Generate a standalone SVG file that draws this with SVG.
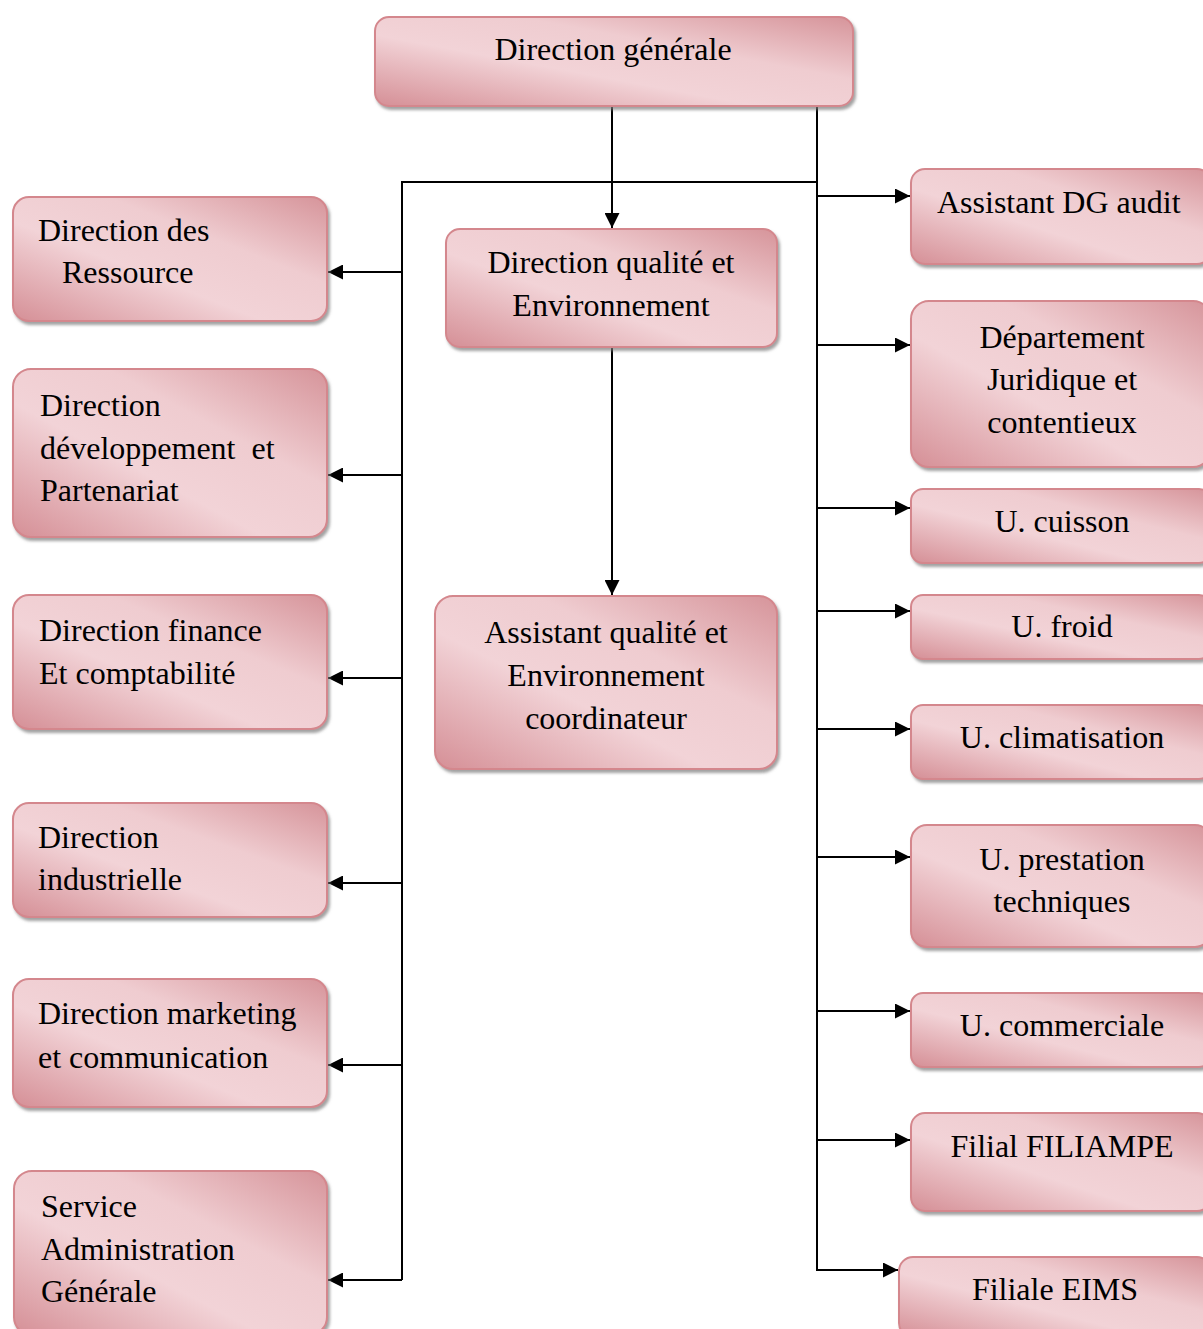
<svg xmlns="http://www.w3.org/2000/svg" width="1203" height="1329" viewBox="0 0 1203 1329">
<style>
.box{fill:url(#g);stroke:#d4878d;stroke-width:2;filter:url(#sh)}
.t{font-family:"Liberation Serif","Times New Roman",serif;font-size:32px;fill:#000}
.c{text-anchor:middle}
.ln{fill:none;stroke:#000;stroke-width:2}
</style>
<defs>
<linearGradient id="g" x1="0" y1="1" x2="1" y2="0">
<stop offset="0" stop-color="#d58f96"/>
<stop offset="0.4" stop-color="#f2d3d7"/>
<stop offset="0.65" stop-color="#efccd0"/>
<stop offset="1" stop-color="#d6949a"/>
</linearGradient>
<filter id="sh" x="-5%" y="-5%" width="115%" height="120%">
<feDropShadow dx="2" dy="3" stdDeviation="1.5" flood-color="#7a7a7a" flood-opacity="0.7"/>
</filter>
<marker id="ar" markerWidth="15" markerHeight="15" viewBox="0 0 15 15" refX="15" refY="7.5" orient="auto" markerUnits="userSpaceOnUse">
<path d="M0,0 L15,7.5 L0,15 Z" fill="#000"/>
</marker>
</defs>

<g id="connectors">
<line class="ln" x1="612" y1="106" x2="612" y2="228" marker-end="url(#ar)"/>
<polyline class="ln" points="817,106 817,182 402,182 402,1280"/>
<line class="ln" x1="817" y1="182" x2="817" y2="1271"/>
<line class="ln" x1="612" y1="346" x2="612" y2="595" marker-end="url(#ar)"/>
<line class="ln" x1="402" y1="272" x2="328" y2="272" marker-end="url(#ar)"/>
<line class="ln" x1="402" y1="475" x2="328" y2="475" marker-end="url(#ar)"/>
<line class="ln" x1="402" y1="678" x2="328" y2="678" marker-end="url(#ar)"/>
<line class="ln" x1="402" y1="883" x2="328" y2="883" marker-end="url(#ar)"/>
<line class="ln" x1="402" y1="1065" x2="328" y2="1065" marker-end="url(#ar)"/>
<polyline class="ln" points="402,1280 328,1280" marker-end="url(#ar)"/>
<line class="ln" x1="817" y1="196" x2="910" y2="196" marker-end="url(#ar)"/>
<line class="ln" x1="817" y1="345" x2="910" y2="345" marker-end="url(#ar)"/>
<line class="ln" x1="817" y1="508" x2="910" y2="508" marker-end="url(#ar)"/>
<line class="ln" x1="817" y1="611" x2="910" y2="611" marker-end="url(#ar)"/>
<line class="ln" x1="817" y1="729" x2="910" y2="729" marker-end="url(#ar)"/>
<line class="ln" x1="817" y1="857" x2="910" y2="857" marker-end="url(#ar)"/>
<line class="ln" x1="817" y1="1011" x2="910" y2="1011" marker-end="url(#ar)"/>
<line class="ln" x1="817" y1="1140" x2="910" y2="1140" marker-end="url(#ar)"/>
<polyline class="ln" points="817,1270 898,1270" marker-end="url(#ar)"/>
</g>

<g id="n-dg"><rect class="box" x="375" y="17" width="478" height="89" rx="14"/><text class="t c" x="613" y="60">Direction générale</text></g>

<g id="n-dqe"><rect class="box" x="446" y="229" width="331" height="118" rx="14"/><text class="t c" x="611" y="273">Direction qualité et</text><text class="t c" x="611" y="316">Environnement</text></g>
<g id="n-aqe"><rect class="box" x="435" y="596" width="342" height="173" rx="18"/><text class="t c" x="606" y="643">Assistant qualité et</text><text class="t c" x="606" y="686">Environnement</text><text class="t c" x="606" y="729">coordinateur</text></g>

<g id="n-drh"><rect class="box" x="13" y="197" width="314" height="124" rx="16"/><text class="t" x="38" y="241">Direction des</text><text class="t" x="62" y="283">Ressource</text></g>
<g id="n-ddp"><rect class="box" x="13" y="369" width="314" height="168" rx="18"/><text class="t" x="40" y="416">Direction</text><text class="t" x="40" y="459" xml:space="preserve">développement  et</text><text class="t" x="40" y="501">Partenariat</text></g>
<g id="n-dfc"><rect class="box" x="13" y="595" width="314" height="134" rx="16"/><text class="t" x="39" y="641">Direction finance</text><text class="t" x="39" y="684">Et comptabilité</text></g>
<g id="n-di"><rect class="box" x="13" y="803" width="314" height="114" rx="16"/><text class="t" x="38" y="848">Direction</text><text class="t" x="38" y="890">industrielle</text></g>
<g id="n-dmc"><rect class="box" x="13" y="979" width="314" height="128" rx="16"/><text class="t" x="38" y="1024">Direction marketing</text><text class="t" x="38" y="1068">et communication</text></g>
<g id="n-sag"><rect class="box" x="14" y="1171" width="313" height="164" rx="18"/><text class="t" x="41" y="1217">Service</text><text class="t" x="41" y="1260">Administration</text><text class="t" x="41" y="1302">Générale</text></g>

<g id="n-adg"><rect class="box" x="911" y="169" width="300" height="95" rx="14"/><text class="t" x="937" y="213">Assistant DG audit</text></g>
<g id="n-djc"><rect class="box" x="911" y="301" width="300" height="166" rx="18"/><text class="t c" x="1062" y="348">Département</text><text class="t c" x="1062" y="390">Juridique et</text><text class="t c" x="1062" y="433">contentieux</text></g>
<g id="n-uc"><rect class="box" x="911" y="489" width="300" height="74" rx="12"/><text class="t c" x="1062" y="532">U. cuisson</text></g>
<g id="n-uf"><rect class="box" x="911" y="595" width="300" height="64" rx="12"/><text class="t c" x="1062" y="637">U. froid</text></g>
<g id="n-ucl"><rect class="box" x="911" y="705" width="300" height="74" rx="12"/><text class="t c" x="1062" y="748">U. climatisation</text></g>
<g id="n-upt"><rect class="box" x="911" y="825" width="300" height="122" rx="16"/><text class="t c" x="1062" y="870">U. prestation</text><text class="t c" x="1062" y="912">techniques</text></g>
<g id="n-ucm"><rect class="box" x="911" y="993" width="300" height="74" rx="12"/><text class="t c" x="1062" y="1036">U. commerciale</text></g>
<g id="n-ff"><rect class="box" x="911" y="1113" width="300" height="98" rx="14"/><text class="t c" x="1062" y="1157">Filial FILIAMPE</text></g>
<g id="n-fe"><rect class="box" x="899" y="1257" width="312" height="80" rx="14"/><text class="t c" x="1055" y="1300">Filiale EIMS</text></g>
</svg>
